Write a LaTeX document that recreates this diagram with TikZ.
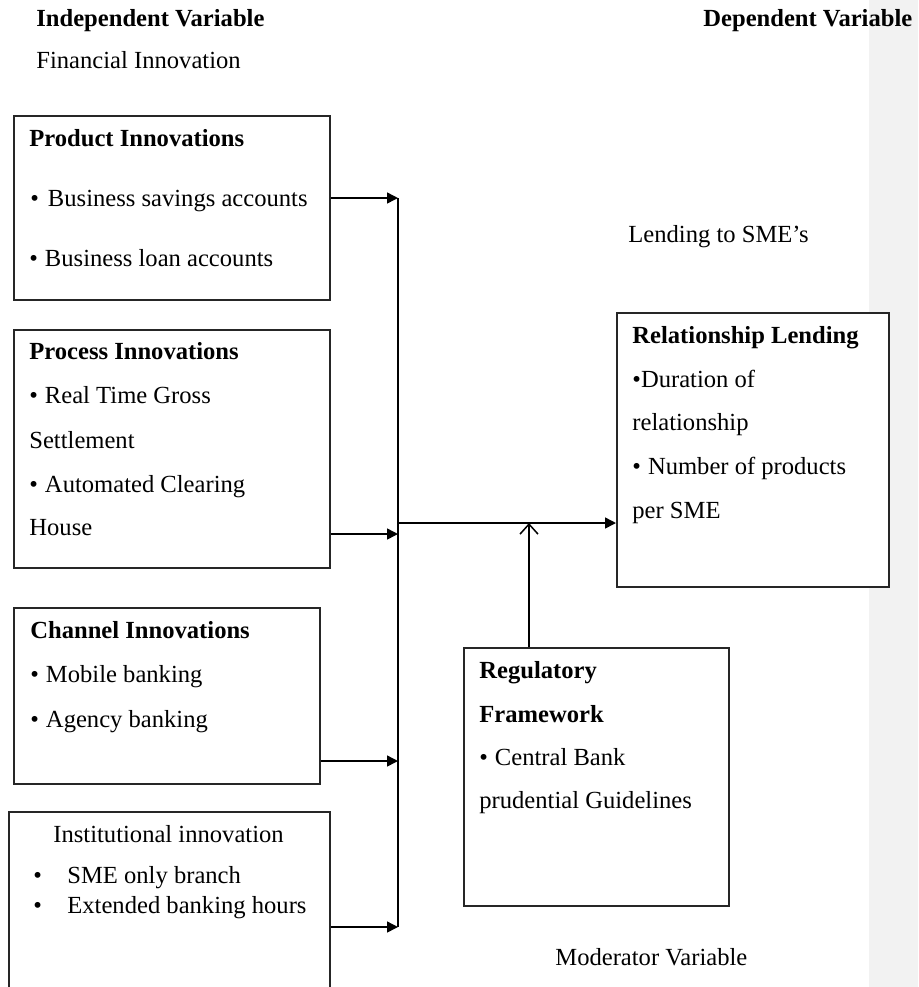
\documentclass[tikz,border=0pt]{standalone}
\usepackage{fontspec}
\setmainfont{Liberation Serif}
\usetikzlibrary{arrows.meta}
\definecolor{strip}{HTML}{F2F2F2}
\begin{document}
\begin{tikzpicture}[x=0.5pt,y=-0.5pt,
  box/.style={draw=black!85, fill=white, line width=0.8pt, inner sep=0pt, anchor=north west},
  txt/.style={anchor=base west, inner sep=0pt, font=\fontsize{12.3}{14}\selectfont},
  btxt/.style={anchor=base west, inner sep=0pt, font=\fontsize{12.3}{14}\selectfont\bfseries},
  conn/.style={line width=0.75pt},
  arr/.style={conn, -{Triangle[length=5.5pt,width=5.5pt]}},
  openarr/.style={conn, -{Straight Barb[length=5pt,width=9pt]}}
]
\useasboundingbox (0,0) rectangle (918,987);
\clip (0,0) rectangle (918,987);
\fill[strip] (869,0) rectangle (918,987);

% headings
\node[btxt] (hind) at (36,26) {Independent Variable};
\node[btxt] (hdep) at (703,26) {Dependent Variable};
\node[txt] (hfin) at (36,68) {Financial Innovation};
\node[txt] (hlend) at (628,242) {Lending to SME’s};
\node[txt] (hmod) at (555,965) {Moderator Variable};

% boxes
\node[box, minimum width=158pt, minimum height=92pt] (b1) at (13,115) {};
\node[box, minimum width=158pt, minimum height=119pt] (b2) at (13,329) {};
\node[box, minimum width=153pt, minimum height=88pt] (b3) at (13,607) {};
\node[box, minimum width=160.5pt, minimum height=99.5pt] (b4) at (8,811) {};
\node[box, minimum width=136pt, minimum height=137pt] (rel) at (616,312) {};
\node[box, minimum width=132.5pt, minimum height=129pt] (reg) at (463,647) {};

% box 1
\node[btxt] (t1a) at (29,146) {Product Innovations};
\node[txt] (t1b) at (30,206) {•\hspace{4.5pt}Business savings accounts};
\node[txt] (t1c) at (29,266) {•\hspace{3.5pt}Business loan accounts};
% box 2
\node[btxt] (t2a) at (29,359) {Process Innovations};
\node[txt] (t2b) at (29,403) {•\hspace{3.5pt}Real Time Gross};
\node[txt] (t2c) at (29,448) {Settlement};
\node[txt] (t2d) at (29,492) {•\hspace{3.5pt}Automated Clearing};
\node[txt] (t2e) at (29,535) {House};
% box 3
\node[btxt] (t3a) at (30,638) {Channel Innovations};
\node[txt] (t3b) at (30,682) {•\hspace{3.5pt}Mobile banking};
\node[txt] (t3c) at (30,727) {•\hspace{3.5pt}Agency banking};
% box 4
\node[txt] (t4a) at (53,842) {Institutional innovation};
\node[txt] (t4b) at (33,883) {•};
\node[txt] (t4c) at (67,883) {SME only branch};
\node[txt] (t4d) at (33,913) {•};
\node[txt] (t4e) at (67,913) {Extended banking hours};
% relationship box
\node[btxt] (r1) at (632,343) {Relationship Lending};
\node[txt] (r2) at (632,387) {•Duration of};
\node[txt] (r3) at (632,430) {relationship};
\node[txt] (r4) at (632,474) {•\hspace{3.5pt}Number of products};
\node[txt] (r5) at (632,518) {per SME};
% regulatory box
\node[btxt] (g1) at (479,678) {Regulatory};
\node[btxt] (g2) at (479,722) {Framework};
\node[txt] (g3) at (479,765) {•\hspace{3.5pt}Central Bank};
\node[txt] (g4) at (479,808) {prudential Guidelines};

% junction coordinates
\coordinate (j1) at (398,198);
\coordinate (j2) at (398,534);
\coordinate (j3) at (398,761);
\coordinate (j4) at (398,927);
\coordinate (jm) at (398,523);
\coordinate (mod) at (529,523);

% connectors
\draw[conn] (j1) -- (j4);
\draw[arr] (b1.east |- j1) -- (j1);
\draw[arr] (b2.east |- j2) -- (j2);
\draw[arr] (b3.east |- j3) -- (j3);
\draw[arr] (b4.east |- j4) -- (j4);
\draw[arr] (jm) -- (rel.west |- jm);
\draw[openarr] (reg.north -| mod) -- (mod);
\end{tikzpicture}
\end{document}
